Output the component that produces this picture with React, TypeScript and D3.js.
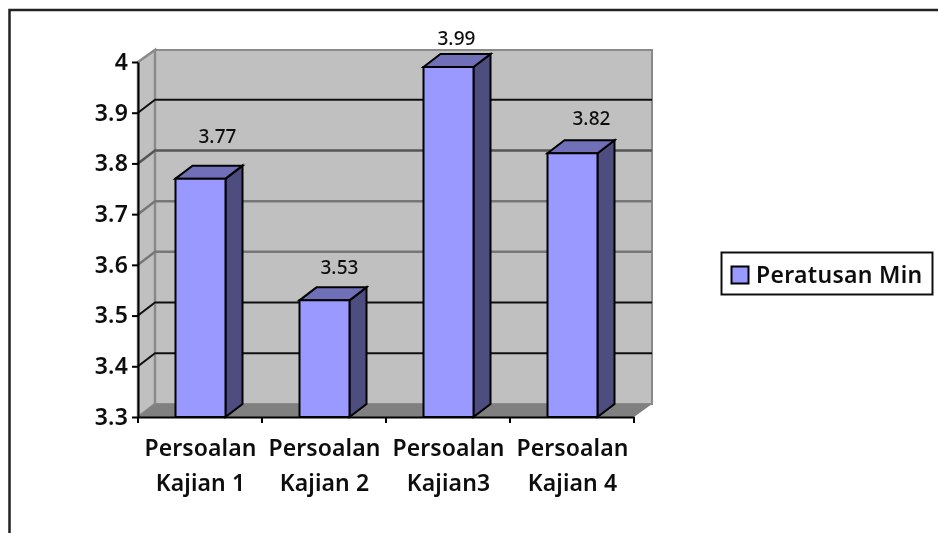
import * as d3 from 'd3';
import * as React from 'react';

const categories = ['Persoalan Kajian 1', 'Persoalan Kajian 2', 'Persoalan Kajian3', 'Persoalan Kajian 4'];
const values = [3.77, 3.53, 3.99, 3.82];
const yTicks = [3.3, 3.4, 3.5, 3.6, 3.7, 3.8, 3.9, 4];
const seriesName = 'Peratusan Min';

// gridlines in the scan are not all the same darkness
const gridColors = { 3.4: '#111', 3.5: '#111', 3.6: '#777', 3.7: '#777', 3.8: '#555', 3.9: '#111' };
// data labels were placed by hand in the original chart
const labelNudge = [
  [17, -23],
  [15, -13],
  [8, -9],
  [19, -15],
];

const FONT = '"Noto Sans", sans-serif';

const App = () => {
  const ref = React.useRef<SVGSVGElement | null>(null);

  React.useEffect(() => {
    const svg = d3.select(ref.current);
    svg.selectAll('*').remove();

    const depthX = 17;
    const depthY = 13;
    const bottom = 417;
    const left = 138;
    const right = 634;

    const y = d3.scaleLinear().domain([3.3, 4]).range([bottom, 62]);
    const x = d3.scaleBand().domain(categories).range([left, right]);
    const barWidth = 50;

    const defs = svg.append('defs');
    defs.append('filter').attr('id', 'soft').append('feGaussianBlur').attr('stdDeviation', 0.7);

    const root = svg.append('g').attr('filter', 'url(#soft)');

    const poly = (pts, fill, stroke = 'none', width = 1) =>
      root
        .append('polygon')
        .attr('points', pts.map((p) => p.join(',')).join(' '))
        .attr('fill', fill)
        .attr('stroke', stroke)
        .attr('stroke-width', width);

    // outer frame, only top and left are inside the crop
    root.append('path').attr('d', 'M9.5,533V10H938').attr('fill', 'none').attr('stroke', '#222').attr('stroke-width', 2.5);

    // walls and floor
    const top4 = y(4);
    poly(
      [
        [left + depthX, top4 - depthY + 1],
        [right + depthX + 1, top4 - depthY + 1],
        [right + depthX + 1, bottom - depthY],
        [left + depthX, bottom - depthY],
      ],
      '#c0c0c0',
      '#8a8a8a',
      2
    );
    poly(
      [
        [left, top4],
        [left + depthX, top4 - depthY + 1],
        [left + depthX, bottom - depthY],
        [left, bottom],
      ],
      '#c0c0c0',
      '#8a8a8a',
      2.5
    );
    poly(
      [
        [left, bottom],
        [left + depthX, bottom - depthY],
        [right + depthX + 1, bottom - depthY],
        [right, bottom],
      ],
      '#808080'
    );

    // gridlines
    yTicks
      .filter((t) => t > 3.3 && t < 4)
      .forEach((t) => {
        const c = gridColors[t];
        const w = c === '#111' ? 2 : 2.5;
        root
          .append('path')
          .attr('d', `M${left},${y(t)}L${left + depthX},${y(t) - depthY}H${right + depthX + 1}`)
          .attr('fill', 'none')
          .attr('stroke', c)
          .attr('stroke-width', w);
      });

    // bars
    categories.forEach((c, i) => {
      const x0 = x(c) + (x.bandwidth() - barWidth) / 2 + 0.5;
      const x1 = x0 + barWidth;
      const yTop = y(values[i]);
      const edge = '#000';
      poly(
        [
          [x1, yTop],
          [x1 + depthX, yTop - depthY],
          [x1 + depthX, bottom - depthY],
          [x1, bottom],
        ],
        '#4d4d80',
        edge,
        2
      );
      poly(
        [
          [x0, yTop],
          [x0 + depthX, yTop - depthY],
          [x1 + depthX, yTop - depthY],
          [x1, yTop],
        ],
        '#7070b8',
        edge,
        2
      );
      poly(
        [
          [x0, yTop],
          [x1, yTop],
          [x1, bottom],
          [x0, bottom],
        ],
        '#9999ff',
        edge,
        2
      );
      root
        .append('text')
        .attr('x', (x0 + x1) / 2 + labelNudge[i][0])
        .attr('y', yTop - depthY + labelNudge[i][1])
        .attr('text-anchor', 'middle')
        .attr('font-family', FONT)
        .attr('font-size', 19)
        .attr('font-weight', 500)
        .attr('letter-spacing', 0.1)
        .attr('fill', '#111')
        .text(values[i].toFixed(2));
    });

    // axes
    const yAxis = root
      .append('g')
      .attr('transform', `translate(${left},0)`)
      .call(d3.axisLeft(y).tickValues(yTicks).tickFormat(d3.format('~g')).tickSize(6).tickPadding(4).tickSizeOuter(0));
    yAxis.select('.domain').attr('stroke', '#000').attr('stroke-width', 2);
    yAxis.selectAll('.tick line').attr('stroke', '#000').attr('stroke-width', 2);
    yAxis.selectAll('text').attr('font-family', FONT).attr('font-size', 23).attr('font-weight', 600).attr('letter-spacing', 0.2).attr('fill', '#111');

    const xAxis = root
      .append('g')
      .attr('transform', `translate(0,${bottom})`)
      .call(d3.axisBottom(x).tickSize(0).tickFormat(() => ''));
    xAxis.select('.domain').attr('stroke', '#000').attr('stroke-width', 2);
    xAxis.selectAll('.tick').remove();
    [0, 1, 2, 3, 4].forEach((i) => {
      const tx = left + i * x.step();
      xAxis.append('line').attr('x1', tx).attr('x2', tx).attr('y1', 0).attr('y2', 6).attr('stroke', '#000').attr('stroke-width', 2);
    });

    // category labels wrap on two lines
    categories.forEach((c) => {
      const words = c.split(' ');
      const t = root
        .append('text')
        .attr('text-anchor', 'middle')
        .attr('font-family', FONT)
        .attr('font-size', 23)
        .attr('font-weight', 600)
        .attr('letter-spacing', 0.1)
        .attr('fill', '#111');
      t.append('tspan').attr('x', x(c) + x.bandwidth() / 2 + 0.5).attr('y', 456).text(words[0]);
      t.append('tspan').attr('x', x(c) + x.bandwidth() / 2 + 0.5).attr('y', 491).text(words[1] + (words[2] ? ' ' + words[2] : ''));
    });

    // legend
    root.append('rect').attr('x', 721.5).attr('y', 252.5).attr('width', 211).attr('height', 42).attr('fill', '#fff').attr('stroke', '#111').attr('stroke-width', 2);
    root.append('rect').attr('x', 731.5).attr('y', 266.5).attr('width', 17).attr('height', 17).attr('fill', '#9999ff').attr('stroke', '#000').attr('stroke-width', 2);
    root.append('text').attr('x', 756).attr('y', 283).attr('font-family', FONT).attr('font-size', 23).attr('font-weight', 600).attr('letter-spacing', 0.3).attr('fill', '#111').text(seriesName);
  }, []);

  return <svg ref={ref} width={938} height={533} style={{ position: 'absolute', left: 0, top: 0, background: '#fff' }} />;
};

export default App;
